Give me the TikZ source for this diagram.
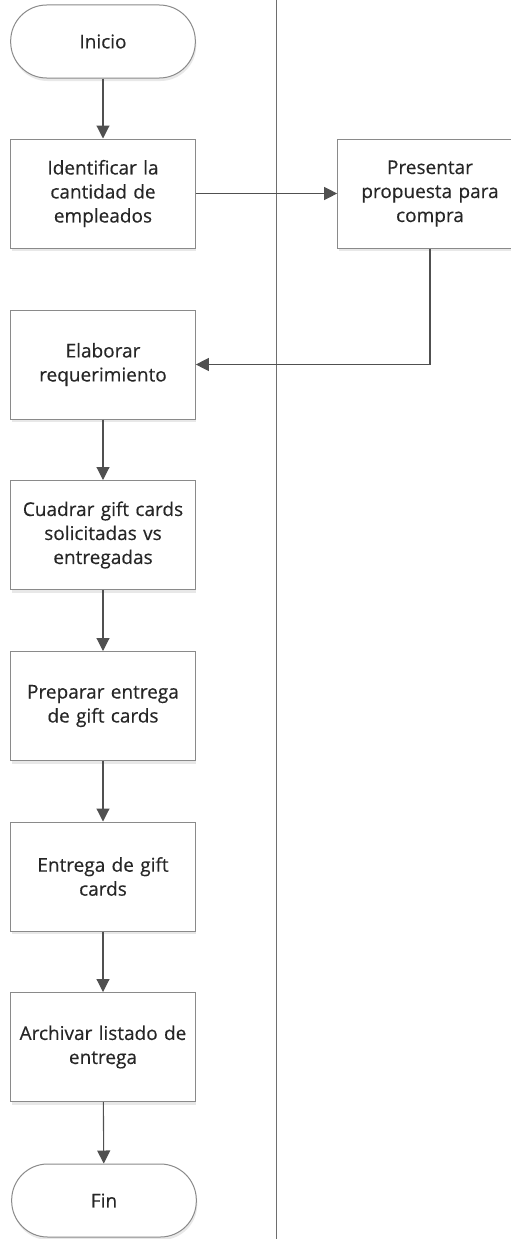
\documentclass[tikz,border=0pt]{standalone}
\usepackage{fontspec}
\setmainfont{Open Sans}[UprightFeatures={FakeBold=0.3}]
\usetikzlibrary{arrows.meta,shadows}
\definecolor{boxline}{HTML}{8A8A8A}
\definecolor{flowline}{HTML}{505050}
\definecolor{txt}{HTML}{262626}
\definecolor{lane}{HTML}{6E6E6E}
\begin{document}
\begin{tikzpicture}[x=1pt,y=-1pt,
  font=\fontsize{19}{24}\selectfont, text=txt,
  stepbox/.style={draw=boxline, line width=1pt, fill=white,
    minimum width=182pt, minimum height=109pt, align=center,
    text width=178pt,
    drop shadow={shadow xshift=1pt, shadow yshift=-3pt, fill=black!25, opacity=0.35}},
  terminal/.style={stepbox, minimum height=73pt, rounded corners=36pt},
  flow/.style={draw=flowline, line width=1.1pt,
    -{Triangle[length=13pt,width=13pt]}}]
  \clip (0,0) rectangle (511,1239);
  \fill[white] (0,0) rectangle (511,1239);

  % swimlane divider
  \coordinate (laneTop) at (276,0);
  \coordinate (laneBot) at (276,1239);
  \draw[lane, line width=0.9pt] (laneTop) -- (laneBot);

  % process steps
  \node[terminal] (inicio) at (103,41.5) {Inicio};
  \node[stepbox] (ident) at (103,193.5) {Identificar la\\cantidad de\\empleados};
  \node[stepbox] (prop) at (430,193.5) {Presentar\\propuesta para\\compra};
  \node[stepbox] (elab) at (103,364.5) {Elaborar\\requerimiento};
  \node[stepbox] (cuad) at (103,535) {Cuadrar gift cards\\solicitadas vs\\entregadas};
  \node[stepbox] (prep) at (103,706) {Preparar entrega\\de gift cards};
  \node[stepbox] (entr) at (103,876.5) {Entrega de gift\\cards};
  \node[stepbox] (arch) at (103,1047) {Archivar listado de\\entrega};
  \node[terminal] (fin) at (104,1200.5) {Fin};

  % connectors
  \draw[flow] (inicio) -- (ident);
  \draw[flow] (ident) -- (prop);
  \draw[flow] (prop.south) |- (elab.east);
  \draw[flow] (elab) -- (cuad);
  \draw[flow] (cuad) -- (prep);
  \draw[flow] (prep) -- (entr);
  \draw[flow] (entr) -- (arch);
  \draw[flow] (arch) -- (fin);
\end{tikzpicture}
\end{document}
